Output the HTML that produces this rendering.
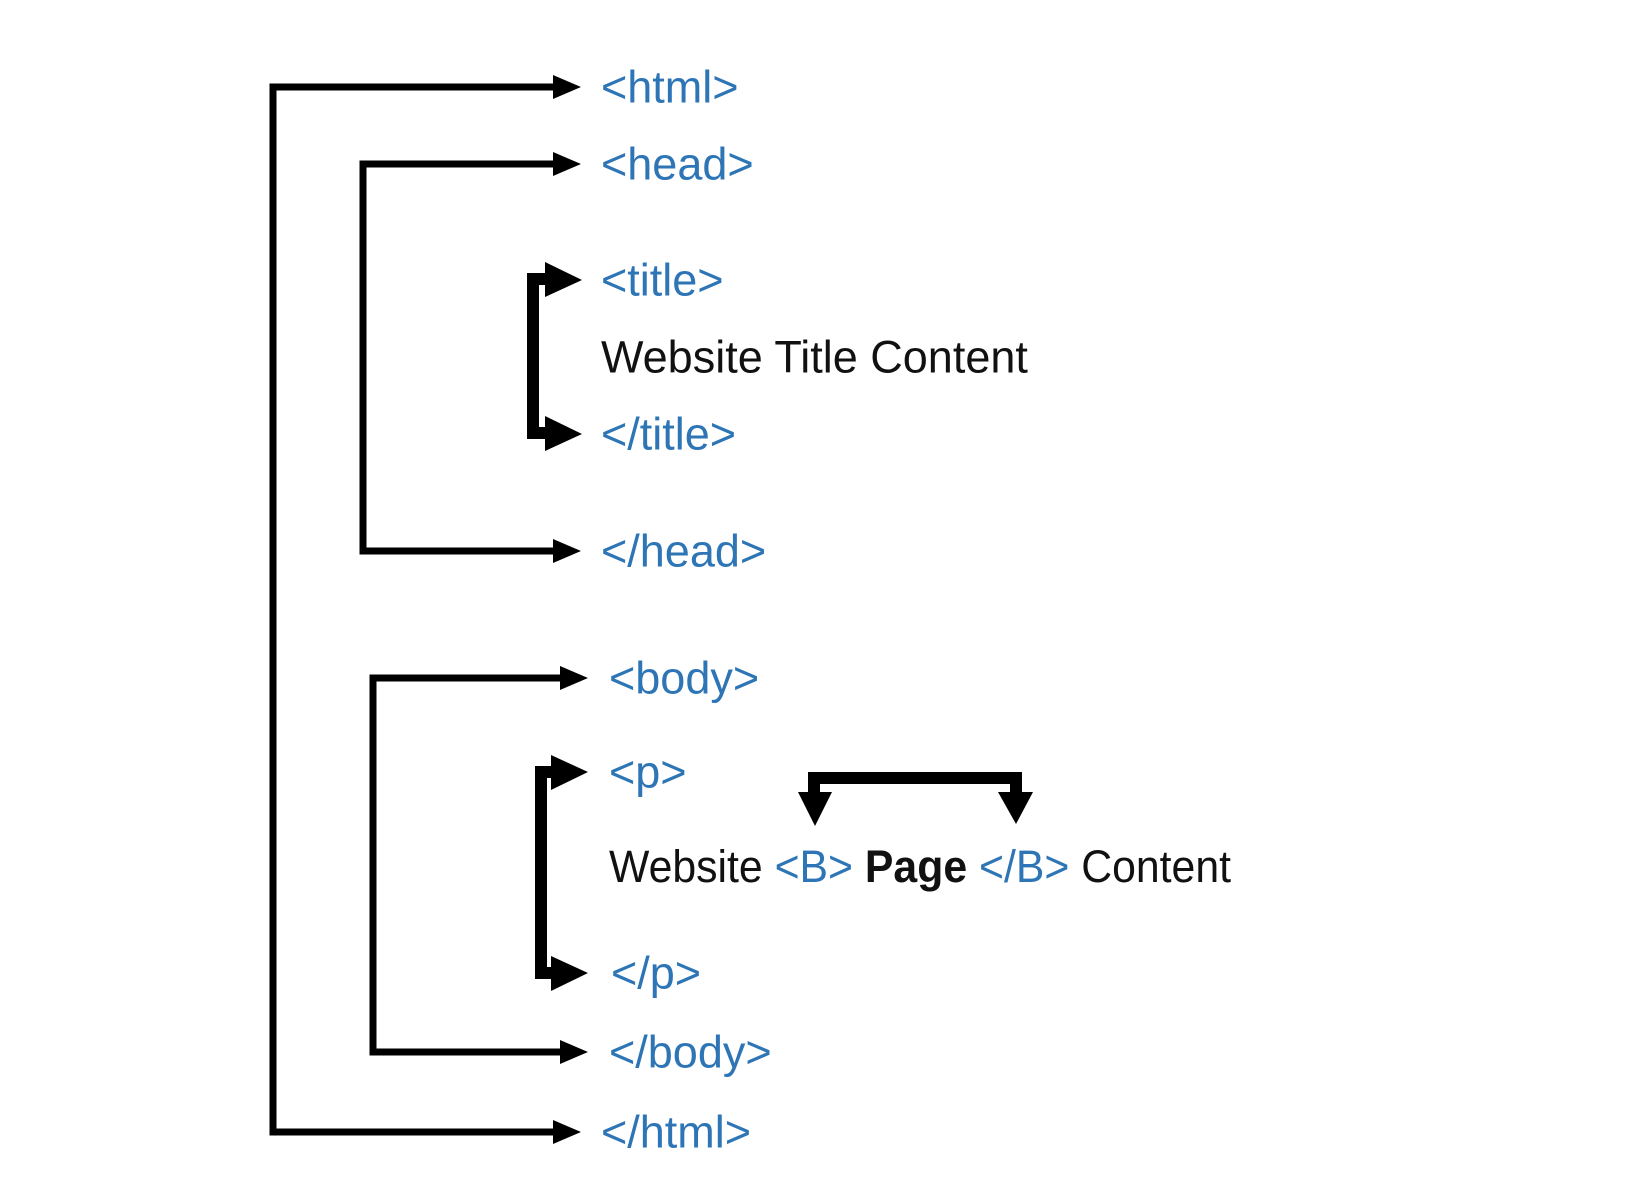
<!DOCTYPE html>
<html><head><meta charset="utf-8"><style>
html,body{margin:0;padding:0;background:#fff;}
svg{display:block}
text{font-family:"Liberation Sans",sans-serif;font-size:45px;dominant-baseline:central;}
.b{fill:#2E75B6}
.k{fill:#111}
</style></head><body>
<svg width="1650" height="1200" viewBox="0 0 1650 1200" xmlns="http://www.w3.org/2000/svg">
<g fill="none" stroke="#000" stroke-width="7" stroke-linejoin="miter">
<polyline points="556,87 273,87 273,1132 556,1132"/>
<polyline points="556,164 363,164 363,551 556,551"/>
<polyline points="563,678 373,678 373,1052 563,1052"/>
</g>
<g fill="none" stroke="#000" stroke-width="12" stroke-linejoin="miter">
<polyline points="550,279 533,279 533,433 550,433"/>
<polyline points="556,772 541,772 541,973 556,973"/>
<polyline points="814,800 814,778 1016,778 1016,800"/>
</g>
<g fill="#000">
<polygon points="553,75 581,87 553,99"/>
<polygon points="553,152 581,164 553,176"/>
<polygon points="553,539 581,551 553,563"/>
<polygon points="553,1120 581,1132 553,1144"/>
<polygon points="560,666 588,678 560,690"/>
<polygon points="560,1040 588,1052 560,1064"/>
<polygon points="545,262 582,280 545,297"/>
<polygon points="545,416 582,434 545,451"/>
<polygon points="551,755 588,772 551,790"/>
<polygon points="551,956 588,973 551,991"/>
<polygon points="798,792 832,792 815,826"/>
<polygon points="998,792 1033,792 1016,824"/>
</g>
<text x="601" y="87" class="b">&lt;html&gt;</text>
<text x="601" y="164" class="b">&lt;head&gt;</text>
<text x="601" y="280" class="b">&lt;title&gt;</text>
<text x="601" y="357" class="k">Website Title Content</text>
<text x="601" y="434" class="b">&lt;/title&gt;</text>
<text x="601" y="551" class="b">&lt;/head&gt;</text>
<text x="609" y="678" class="b">&lt;body&gt;</text>
<text x="609" y="772" class="b">&lt;p&gt;</text>
<text x="609" y="866" textLength="622" lengthAdjust="spacingAndGlyphs"><tspan class="k">Website </tspan><tspan class="b">&lt;B&gt; </tspan><tspan class="k" font-weight="bold">Page </tspan><tspan class="b">&lt;/B&gt; </tspan><tspan class="k">Content</tspan></text>
<text x="611" y="973" class="b">&lt;/p&gt;</text>
<text x="609" y="1052" class="b">&lt;/body&gt;</text>
<text x="601" y="1132" class="b">&lt;/html&gt;</text>
</svg>
</body></html>
